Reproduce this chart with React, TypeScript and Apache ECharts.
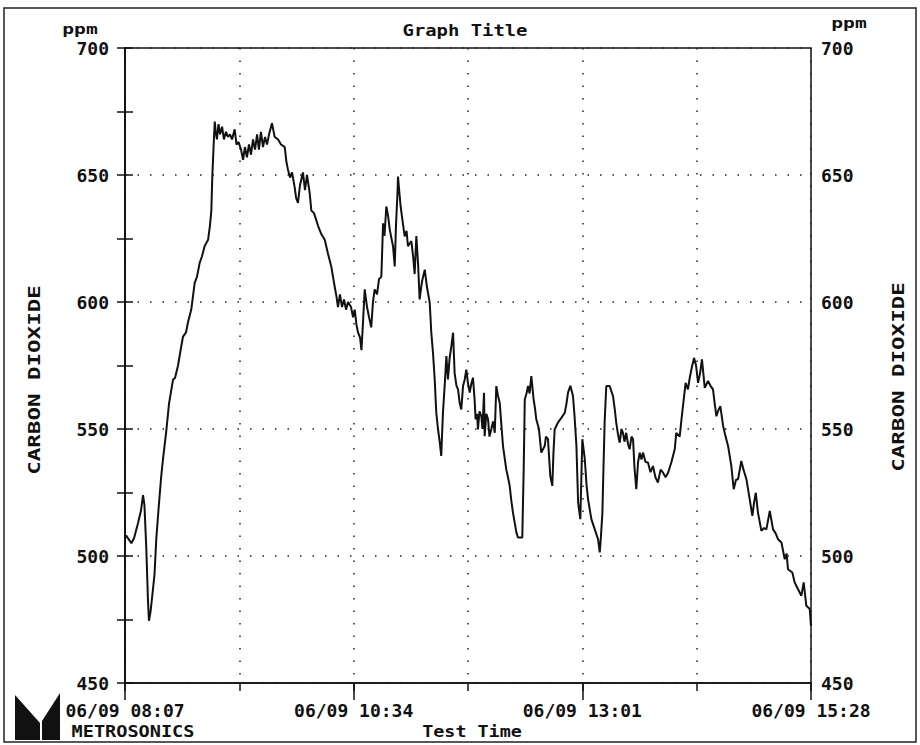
import React, { useEffect, useRef } from "react";
import * as echarts from "echarts";

// minutes elapsed since 06/09 08:07
const minutes = [
  0, 0.8, 4.1, 5.8, 8.4, 10.3, 11.6, 12.5, 13.7, 14.8, 15.4, 16.4, 18.0, 19.0, 20.1, 21.5, 23.3, 24.4, 26.5, 28.3,
  30.9, 32.1, 34.1, 36.0, 37.3, 39.2, 40.5, 42.6, 44.8, 46.3, 48.0, 49.5, 51.2, 53.4, 54.6, 55.5, 56.1, 57.0, 57.7, 58.3,
  59.1, 60.1, 61.1, 62.4, 63.6, 64.9, 66.2, 67.5, 68.8, 70.5, 71.7, 73.0, 74.6, 75.9, 77.1, 78.4, 79.7, 81.0, 82.3, 83.6,
  84.9, 86.1, 87.4, 88.7, 90.0, 91.3, 92.6, 94.5, 96.2, 98.4, 100.3, 102.7, 103.8, 104.8, 106.1, 107.4, 109.1, 110.0, 111.2, 112.5,
  114.4, 115.7, 117.0, 118.7, 119.8, 121.5, 124.1, 126.0, 128.4, 130.5, 132.6, 134.8, 136.0, 136.9, 138.2, 139.5, 140.8, 142.1, 143.4, 145.3,
  146.6, 147.7, 148.8, 149.8, 151.1, 152.0, 153.0, 154.1, 155.6, 156.9, 158.3, 159.4, 160.5, 162.0, 163.3, 164.8, 165.9, 166.8, 168.0, 169.1,
  170.2, 171.3, 172.3, 173.4, 174.2, 175.1, 175.5, 176.4, 177.2, 178.4, 179.8, 181.0, 181.9, 184.1, 185.2, 186.2, 187.3, 188.4, 189.4, 190.9,
  192.7, 194.1, 195.9, 196.9, 198.0, 199.1, 200.1, 201.2, 202.3, 203.3, 204.4, 205.5, 206.6, 207.6, 208.7, 209.9, 210.9, 211.9, 213.1, 214.1,
  215.2, 216.2, 217.3, 218.4, 219.4, 220.5, 221.6, 222.7, 223.7, 224.7, 225.4, 226.3, 226.9, 227.9, 229.1, 229.8, 230.8, 231.2, 232.3, 233.4,
  234.3, 235.5, 236.6, 237.7, 238.7, 239.8, 240.9, 241.9, 243.0, 245.1, 246.2, 247.3, 248.3, 249.4, 251.6, 252.6, 255.4, 256.3, 257.0, 258.1,
  259.1, 260.1, 261.2, 262.7, 263.6, 264.4, 266.1, 267.6, 268.7, 269.8, 270.6, 271.9, 273.4, 274.7, 275.4, 276.2, 278.3, 280.5, 282.7, 283.8,
  284.8, 286.3, 288.0, 289.0, 290.2, 291.3, 292.7, 294.0, 295.6, 296.7, 297.7, 299.8, 302.0, 304.1, 305.2, 306.0, 306.9, 307.6, 308.4, 309.4,
  311.6, 313.7, 314.8, 315.8, 316.9, 318.0, 319.2, 320.1, 321.1, 322.2, 323.4, 324.4, 325.6, 326.6, 327.5, 328.7, 329.8, 330.9, 332.0, 333.0,
  334.6, 336.2, 337.8, 339.4, 341.0, 342.6, 344.3, 345.9, 347.5, 349.1, 351.2, 353.4, 354.4, 356.6, 357.6, 358.7, 360.4, 361.9, 363.0, 364.1,
  365.8, 367.1, 368.4, 369.7, 370.9, 372.7, 374.8, 376.4, 378.0, 379.1, 380.2, 381.2, 382.7, 384.5, 386.1, 387.7, 389.8, 391.3, 392.8, 394.1,
  396.2, 397.6, 399.5, 401.6, 403.3, 404.4, 405.5, 406.9, 409.1, 410.8, 412.3, 414.5, 416.6, 418.2, 419.8, 422.0, 424.1, 425.3, 426.2, 429.0,
  430.5, 432.6, 434.8, 436.3, 438.0, 440.2, 441,
];

// carbon dioxide, ppm
const co2 = [
  507, 508, 505, 507, 513, 518, 524, 520, 503, 482, 474.5, 478, 487, 493, 506.6, 518, 531.5, 538, 549, 560,
  569.5, 570, 575, 582, 586.4, 588, 592, 597, 607.5, 610, 615.4, 618, 622, 624.5, 630, 636, 649, 662, 671, 667,
  664, 670, 666, 669, 664, 667, 665, 666, 664, 668, 662, 663, 660, 656, 661, 657, 662, 658, 664, 660,
  666, 660, 667, 661, 665, 662, 666, 670.4, 665, 664, 662, 661, 655, 652, 649, 651, 645, 641, 639, 646,
  651, 644, 650, 643, 636, 635, 630, 627, 624.5, 619, 614, 606, 602, 598, 603, 598, 601, 597, 600, 598,
  594, 597, 591, 588, 586, 581, 592, 605, 598, 594, 590, 600, 605, 603, 609, 610, 631, 626, 637.6, 634,
  628.5, 625, 622, 614, 630, 642, 649.4, 643, 637.6, 632, 625.8, 628, 622, 624, 618, 611, 626, 615, 601, 608,
  612.7, 606, 599.6, 588, 580, 569.5, 556.5, 550, 545, 539.4, 556.5, 567, 578.7, 569.5, 578, 583, 587.9, 572, 567, 565.6,
  560, 557.7, 566.9, 569.5, 573.4, 568, 564.3, 568, 570.2, 562, 553.8, 556, 549.8, 557, 555, 550, 564.3, 547.2, 556, 553.8,
  547, 550, 553, 548.5, 566.9, 563, 560.3, 552, 543.3, 534.1, 531, 527.6, 522, 517.1, 509.3, 507.3, 507.3, 534.1, 561.6, 564,
  566.9, 564, 570.8, 561.6, 558, 553.8, 550, 540.7, 542, 543.3, 547, 546, 531.5, 527.6, 540, 549.8, 552.5, 554.4, 556.4, 560,
  564.3, 567, 563, 555, 543.3, 521, 514.5, 546, 538, 528, 522.3, 514.5, 510.5, 506.6, 501.4, 508, 517.1, 535, 553.8, 566.9,
  566.9, 563, 558, 552.5, 548, 544.6, 550, 548.5, 545, 548.5, 544, 542, 547, 546, 535, 526.3, 536.8, 540.7, 538, 540.7,
  537, 536.8, 533, 535.4, 531, 528.9, 534, 532.8, 531, 532.8, 536.8, 542, 548.5, 547, 553, 559, 568.2, 565.6, 570, 573.4,
  578, 575, 568.2, 572, 577.4, 566.2, 568.9, 567, 565.6, 560, 555, 557, 559, 551.2, 547, 543.3, 535.4, 526.3, 530, 530.2,
  537.4, 534, 530.2, 522.3, 515.8, 521, 524.9, 517.1, 509.9, 511, 510.5, 517.7, 510.5, 509, 506.6, 505.3, 498.7, 501, 494.8, 493.5,
  489.6, 487, 484.3, 489.6, 480.4, 479.1, 472.5,
];

const timeLabels = ["06/09 08:07", "06/09 10:34", "06/09 13:01", "06/09 15:28"];
const yTicks = [450, 500, 550, 600, 650, 700];

const MONO = "'DejaVu Sans Mono', 'Liberation Mono', monospace";

export default function App() {
  const ref = useRef<HTMLDivElement>(null);

  useEffect(() => {
    if (!ref.current) return;
    const chart = echarts.init(ref.current, null, { renderer: "svg" });
    const seriesData = minutes.map((m, i) => [m, co2[i]]);
    const labelStyle = {
      fontFamily: MONO,
      fontWeight: "bold" as const,
      fontSize: 18,
      color: "#111",
    };
    const dotted = {
      show: true,
      lineStyle: { color: "#222", width: 1.5, type: [1.5, 11] as any },
    };
    const txt = (text: string, x: number, y: number, size: number, sx: number, rot = 0) => ({
      type: "text",
      x,
      y,
      rotation: rot,
      scaleX: sx,
      style: {
        text,
        fill: "#111",
        font: `bold ${size}px ${MONO}`,
        fontFamily: MONO,
        fontWeight: "bold",
        fontSize: size,
        align: "center",
        verticalAlign: "middle",
        textAlign: "center",
        textVerticalAlign: "middle",
      },
    });

    chart.setOption({
      animation: false,
      backgroundColor: "#ffffff",
      grid: {
        left: 125,
        right: 109,
        top: 48,
        bottom: 62,
        show: true,
        borderColor: "#111",
        borderWidth: 1.5,
        backgroundColor: "transparent",
      },
      xAxis: [
        {
          type: "value",
          min: 0,
          max: 441,
          interval: 73.5,
          position: "bottom",
          axisLine: { show: true, lineStyle: { color: "#111", width: 1.5 } },
          axisTick: { show: true, length: 8, lineStyle: { color: "#111", width: 1.5 } },
          axisLabel: { show: false },
          splitLine: dotted,
        },
        {
          type: "value",
          min: 0,
          max: 441,
          interval: 147,
          position: "bottom",
          axisLine: { show: false },
          axisTick: { show: true, length: 17, lineStyle: { color: "#111", width: 1.5 } },
          axisLabel: {
            ...labelStyle,
            margin: 18,
            formatter: (v: number) => timeLabels[Math.round(v / 147)] ?? "",
          },
          splitLine: { show: false },
        },
      ],
      yAxis: [
        {
          type: "value",
          min: yTicks[0],
          max: yTicks[yTicks.length - 1],
          interval: 50,
          position: "left",
          axisLine: { show: true, lineStyle: { color: "#111", width: 1.5 } },
          axisTick: { show: true, length: 8, lineStyle: { color: "#111", width: 1.5 } },
          minorTick: { show: true, splitNumber: 2, length: 8, lineStyle: { color: "#111", width: 1.5 } },
          axisLabel: { ...labelStyle, margin: 16 },
          splitLine: dotted,
        },
        {
          type: "value",
          min: yTicks[0],
          max: yTicks[yTicks.length - 1],
          interval: 50,
          position: "right",
          axisLine: { show: true, lineStyle: { color: "#111", width: 1.5 } },
          axisTick: { show: true, length: 8, lineStyle: { color: "#111", width: 1.5 } },
          minorTick: { show: true, splitNumber: 2, length: 8, lineStyle: { color: "#111", width: 1.5 } },
          axisLabel: { ...labelStyle, margin: 10 },
          splitLine: { show: false },
        },
      ],
      series: [
        {
          type: "line",
          name: "CARBON DIOXIDE",
          xAxisIndex: 0,
          yAxisIndex: 0,
          data: seriesData,
          showSymbol: false,
          symbol: "none",
          lineStyle: { color: "#111", width: 2 },
          z: 5,
        },
      ],
      graphic: [
        {
          type: "rect",
          shape: { x: 4, y: 8, width: 912, height: 734 },
          style: { fill: "none", stroke: "#222", lineWidth: 1.5 },
          silent: true,
        },
        txt("Graph Title", 465, 31, 16, 1.18),
        txt("ppm", 80, 29, 14, 1.4),
        txt("ppm", 849, 23, 14, 1.4),
        txt("CARBON DIOXIDE", 35, 380, 15, 1.5, Math.PI / 2),
        txt("CARBON DIOXIDE", 899, 377, 15, 1.5, Math.PI / 2),
        txt("METROSONICS", 133, 731, 16, 1.16),
        txt("Test Time", 472, 731, 16, 1.15),
        {
          type: "polygon",
          shape: { points: [[15, 695], [40, 723], [40, 740], [15, 740]] },
          style: { fill: "#111" },
        },
        {
          type: "polygon",
          shape: { points: [[60, 693], [60, 740], [42, 740], [42, 721]] },
          style: { fill: "#111" },
        },
      ],
    });
    return () => chart.dispose();
  }, []);

  return (
    <div
      ref={ref}
      style={{ position: "fixed", left: 0, top: 0, width: 920, height: 745, background: "#fff" }}
    />
  );
}
